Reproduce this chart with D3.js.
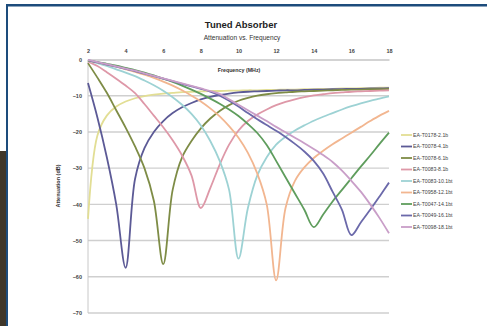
<!DOCTYPE html>
<html>
<head>
<meta charset="utf-8">
<script src="https://cdn.jsdelivr.net/npm/d3@7"></script>
<style>
  html, body { margin: 0; padding: 0; background: #ffffff; }
  svg { display: block; font-family: "Liberation Sans", Arial, sans-serif; }
</style>
</head>
<body>
<svg id="chart" width="487" height="326"></svg>
<script>
// Frequency sweep (MHz) shared by every absorber curve
const frequencies = [2, 2.5, 3, 3.5, 4, 4.5, 5, 5.5, 6, 6.5, 7, 7.5, 8, 8.5, 9, 9.5, 10,
                     10.5, 11, 11.5, 12, 12.5, 13, 13.5, 14, 14.5, 15, 15.5, 16, 16.5, 17, 17.5, 18];

// Attenuation (dB) of each tuned absorber
const absorber2  = [-44, -21, -15.5, -13, -11.6, -10.7, -10.1, -9.7, -9.4, -9.2, -9.0, -8.9, -8.8, -8.7, -8.7, -8.6, -8.6,
                    -8.5, -8.5, -8.4, -8.4, -8.3, -8.3, -8.2, -8.2, -8.1, -8.1, -8.0, -8.0, -7.9, -7.9, -7.8, -7.8];
const absorber4  = [-6.5, -16, -27, -40, -57.5, -33, -24.5, -20, -17, -14.8, -13.2, -12, -11, -10.3, -9.8, -9.4, -9.1,
                    -8.9, -8.8, -8.7, -8.6, -8.5, -8.5, -8.4, -8.3, -8.3, -8.2, -8.2, -8.1, -8.1, -8.0, -8.0, -7.9];
const absorber6  = [-1.0, -5.0, -9.2, -14, -18.8, -24, -30, -39, -56.5, -36, -27, -22.5, -19, -16.3, -14.2, -12.6, -11.4,
                    -10.6, -10.0, -9.6, -9.3, -9.1, -8.9, -8.8, -8.7, -8.6, -8.5, -8.4, -8.3, -8.3, -8.2, -8.2, -8.1];
const absorber8  = [-0.5, -1.8, -3.5, -5.3, -7.2, -9.3, -12.3, -15.5, -18.7, -22.3, -26.5, -32, -41, -35.5, -29, -23.5, -19.6,
                    -17, -15.2, -13.8, -12.6, -11.7, -11.0, -10.4, -9.9, -9.6, -9.3, -9.1, -8.9, -8.8, -8.7, -8.6, -8.5];
const absorber10 = [-0.3, -1.0, -1.8, -2.7, -3.6, -4.6, -5.8, -7.1, -8.6, -10.4, -12.5, -15, -18.2, -22.5, -28, -36, -55,
                    -41, -32, -27, -23.5, -21.3, -19.6, -18.2, -16.9, -15.8, -14.8, -13.8, -12.9, -12.1, -11.4, -10.8, -10.2];
const absorber12 = [-0.3, -0.8, -1.4, -2.0, -2.7, -3.4, -4.2, -5.1, -6.1, -7.2, -8.5, -10, -11.6, -13.5, -15.7, -18.4, -21.6,
                    -25.8, -31.5, -40, -61, -41, -33.5, -29.8, -27.2, -25.2, -23.4, -21.8, -20.2, -18.6, -17.0, -15.5, -14.2];
const absorber14 = [-0.3, -0.7, -1.2, -1.7, -2.3, -2.9, -3.6, -4.4, -5.3, -6.2, -7.2, -8.3, -9.5, -10.8, -12.2, -13.8, -15.6,
                    -17.8, -20.3, -23.6, -28, -32.5, -37, -41.5, -46.3, -42.8, -39.2, -36, -32.8, -29.6, -26.5, -23.3, -20.2];
const absorber16 = [-0.2, -0.8, -1.4, -2.0, -2.6, -3.2, -3.9, -4.6, -5.3, -6.0, -6.7, -7.4, -8.1, -8.9, -10.0, -11.4, -13.0,
                    -14.8, -16.5, -18.1, -19.7, -21.4, -23.3, -25.4, -28, -31.5, -36.5, -41.5, -48.5, -45, -41.5, -37.8, -34];
const absorber18 = [-0.1, -0.7, -1.3, -1.9, -2.5, -3.1, -3.8, -4.5, -5.2, -5.9, -6.6, -7.3, -8.0, -8.7, -9.5, -11.0, -12.5,
                    -14.0, -15.5, -17.0, -18.6, -20.1, -21.6, -23.1, -24.7, -26.4, -28.3, -30.7, -33.5, -36.5, -40, -43.8, -48];

const seriesNames = ["EA-T0178-2.1b", "EA-T0078-4.1b", "EA-T0078-6.1b", "EA-T0083-8.1b", "EA-T0083-10.1bt",
                     "EA-T0958-12.1bt", "EA-T0047-14.1bt", "EA-T0049-16.1bt", "EA-T0098-18.1bt"];
const seriesValues = [absorber2, absorber4, absorber6, absorber8, absorber10, absorber12, absorber14, absorber16, absorber18];
const seriesColors = ["#e2de94", "#5c5a96", "#7e8c46", "#de98a8", "#9dd2d4", "#f2b690", "#5f9d5d", "#6b69aa", "#c99ec8"];

const xTicks = [2, 4, 6, 8, 10, 12, 14, 16, 18];
const yTicks = [0, -10, -20, -30, -40, -50, -60, -70];

const svg = d3.select("#chart");

// Page frame: dark backdrop strip and blue border
svg.append("rect").attr("x", 0).attr("y", 0).attr("width", 487).attr("height", 326).attr("fill", "#ffffff");
svg.append("rect").attr("x", 0).attr("y", 151).attr("width", 7).attr("height", 175).attr("fill", "#3f3629");
svg.append("rect").attr("x", 6).attr("y", 4).attr("width", 481).attr("height", 2.5).attr("fill", "#1d4c7c");
svg.append("rect").attr("x", 6).attr("y", 4).attr("width", 2).attr("height", 322).attr("fill", "#1d4c7c");

const x = d3.scaleLinear().domain([2, 18]).range([88, 389]);
const y = d3.scaleLinear().domain([0, -70]).range([59.5, 313]);

// Horizontal gridlines
svg.append("g").selectAll("line").data(yTicks.slice(1)).join("line")
  .attr("x1", x(2)).attr("x2", x(18))
  .attr("y1", d => y(d)).attr("y2", d => y(d))
  .attr("stroke", "#cfcfcf").attr("stroke-width", 1.4);

// Left value axis line
svg.append("line").attr("x1", x(2)).attr("x2", x(2)).attr("y1", y(0)).attr("y2", y(-70))
  .attr("stroke", "#c8c8c8").attr("stroke-width", 1);

// Frequency axis along the top (0 dB)
const xAxis = svg.append("g").attr("transform", `translate(0,${y(0)})`)
  .call(d3.axisTop(x).tickValues(xTicks).tickSize(0).tickPadding(7).tickFormat(d3.format("d")));
xAxis.select(".domain").attr("stroke", "#c4c4c4").attr("stroke-width", 1.4);
xAxis.selectAll("text").attr("font-size", 5.5).attr("font-weight", "bold").attr("fill", "#444");

const yAxis = svg.append("g").attr("transform", `translate(${x(2)},0)`)
  .call(d3.axisLeft(y).tickValues(yTicks).tickSize(0).tickPadding(6).tickFormat(d3.format("d")));
yAxis.select(".domain").remove();
yAxis.selectAll("text").attr("font-size", 5.5).attr("font-weight", "bold").attr("fill", "#444");

// Titles
svg.append("text").attr("x", 241).attr("y", 28).attr("text-anchor", "middle")
  .attr("font-size", 9.5).attr("font-weight", "bold").attr("fill", "#222").text("Tuned Absorber");
svg.append("text").attr("x", 242).attr("y", 40).attr("text-anchor", "middle")
  .attr("font-size", 6.6).attr("fill", "#333").text("Attenuation vs. Frequency");
svg.append("text").attr("x", 239).attr("y", 72).attr("text-anchor", "middle")
  .attr("font-size", 5.3).attr("font-weight", "bold").attr("fill", "#333").text("Frequency (MHz)");
svg.append("text").attr("transform", "translate(60,186) rotate(-90)").attr("text-anchor", "middle")
  .attr("font-size", 5.5).attr("font-weight", "bold").attr("fill", "#333").text("Attenuation (dB)");

// Absorber response curves
const line = d3.line()
  .x((d, i) => x(frequencies[i]))
  .y(d => y(d))
  .curve(d3.curveCatmullRom.alpha(0.5));

svg.append("g").selectAll("path").data(seriesValues).join("path")
  .attr("d", d => line(d))
  .attr("fill", "none")
  .attr("stroke", (d, i) => seriesColors[i])
  .attr("stroke-width", 1.8)
  .attr("stroke-linejoin", "round");

// Legend
const legend = svg.append("g").selectAll("g").data(seriesNames).join("g")
  .attr("transform", (d, i) => `translate(401,${135 + i * 11.5})`);
legend.append("line").attr("x1", 0).attr("x2", 11).attr("y1", 0).attr("y2", 0)
  .attr("stroke", (d, i) => seriesColors[i]).attr("stroke-width", 1.8);
legend.append("text").attr("x", 12).attr("y", 1.9).attr("font-size", 5.2).attr("fill", "#444").text(d => d);
</script>
</body>
</html>
